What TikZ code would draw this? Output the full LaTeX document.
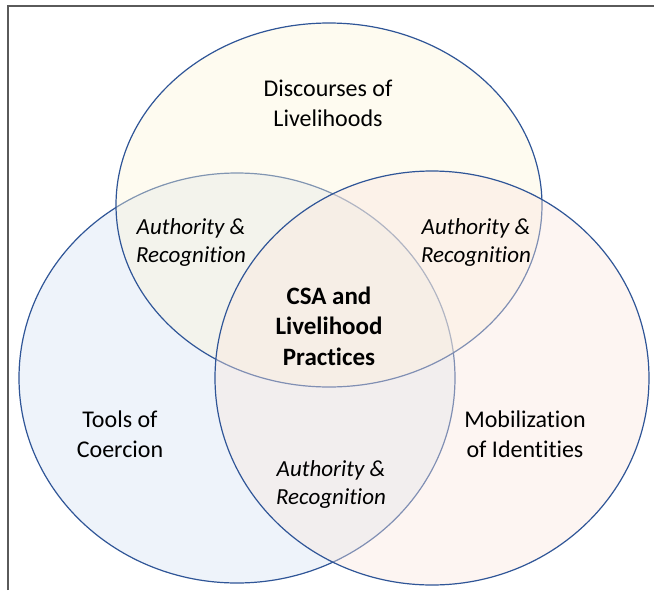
\documentclass[tikz,border=0pt]{standalone}
\usepackage{fontspec}
\setmainfont[Ligatures=NoCommon]{Carlito}
\begin{document}
\begin{tikzpicture}[x=1pt,y=-1pt,
  ring/.style={draw=ringblue, line width=1.2pt, fill opacity=0.4},
  label/.style={align=center, font=\fontsize{24}{30}\selectfont, text=black, inner sep=0pt},
  shared/.style={label, font=\fontsize{23}{28}\selectfont\itshape},
  core/.style={label, font=\fontsize{25}{30.5}\selectfont\bfseries}]
\definecolor{ringblue}{RGB}{47,85,151}
\definecolor{framegray}{RGB}{90,90,90}
\definecolor{topfill}{RGB}{252,245,218}
\definecolor{leftfill}{RGB}{212,225,242}
\definecolor{rightfill}{RGB}{250,230,222}
\useasboundingbox (0,0) rectangle (654,590);
% frame edges
\draw[framegray, line width=1.3pt] (8,590) -- (8,6) -- (654,6);
% the three sets, drawn so later fills veil earlier outlines
\path[ring, fill=leftfill] (237,378) ellipse [x radius=218, y radius=205];
\path[ring, fill=topfill] (329,205) ellipse [x radius=213, y radius=182];
\path[ring, fill=rightfill] (432,378) ellipse [x radius=217, y radius=207];
% labels
\node[label] (disc) at (328,103) {Discourses of\\Livelihoods};
\node[label] (tools) at (120,434) {Tools of\\Coercion};
\node[label] (mob) at (525,434) {Mobilization\\of Identities};
\node[shared] (arl) at (191,242) {Authority \&\\Recognition};
\node[shared] (arr) at (476,242) {Authority \&\\Recognition};
\node[shared] (arb) at (331,484) {Authority \&\\Recognition};
\node[core] (csa) at (329,326) {CSA and\\Livelihood\\Practices};
\end{tikzpicture}
\end{document}
